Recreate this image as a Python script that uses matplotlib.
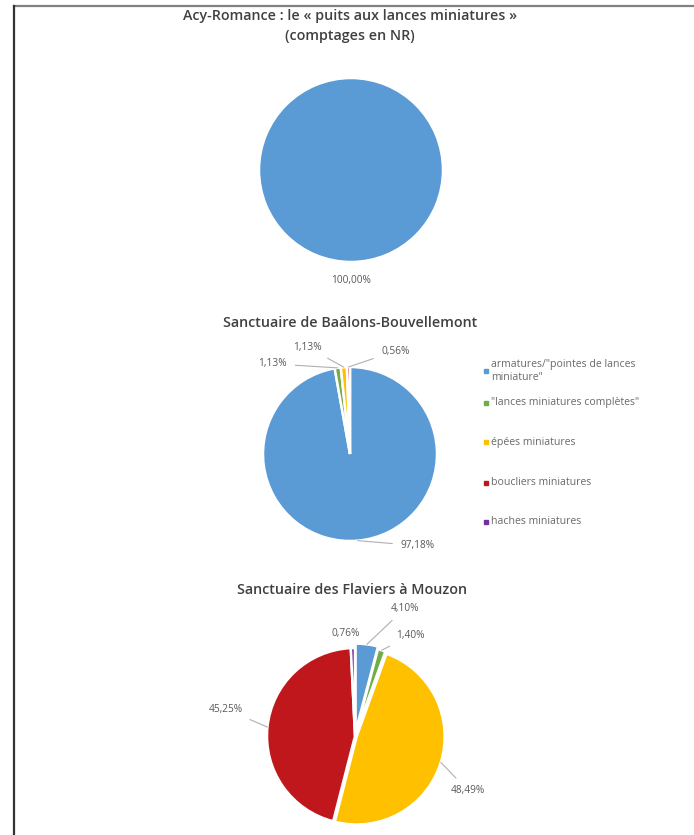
import numpy as np
import matplotlib.pyplot as plt
from matplotlib.lines import Line2D

# categories (legend order)
categories = ['armatures/"pointes de lances\nminiature"',
              '"lances miniatures complètes"',
              'épées miniatures',
              'boucliers miniatures',
              'haches miniatures']
colors = ['#5B9BD5', '#70AD47', '#FFC000', '#C0171C', '#7030A0']

# values (%)
acy_values = [100.00]
acy_labels = ['100,00%']
baalons_values = [97.18, 1.13, 1.13, 0.56]
baalons_labels = ['97,18%', '1,13%', '1,13%', '0,56%']
mouzon_values = [4.10, 1.40, 48.49, 45.25, 0.76]
mouzon_labels = ['4,10%', '1,40%', '48,49%', '45,25%', '0,76%']

titles = ['Acy-Romance : le « puits aux lances miniatures »\n(comptages en NR)',
          'Sanctuaire de Baâlons-Bouvellemont',
          'Sanctuaire des Flaviers à Mouzon']

W, H = 694, 835
fig = plt.figure(figsize=(W / 100, H / 100), dpi=100)
plt.rcParams['font.family'] = ['Open Sans', 'DejaVu Sans']

title_col = '#404040'
lab_col = '#595959'


def pie_axes(cx, cy, r):
    ax = fig.add_axes([(cx - r) / W, 1 - (cy + r) / H, 2 * r / W, 2 * r / H])
    return ax


def draw_pie(ax, values, cols, labels, offsets, leaders, explode=None):
    wedges, _ = ax.pie(values, colors=cols, startangle=90, counterclock=False,
                       radius=1, explode=explode, center=(0, 0), frame=True,
                       wedgeprops=dict(edgecolor='white', linewidth=1.8))
    ax.set_xlim(-1, 1)
    ax.set_ylim(-1, 1)
    ax.axis('off')
    for w, lab, off, lead in zip(wedges, labels, offsets, leaders):
        mid = np.deg2rad((w.theta1 + w.theta2) / 2)
        cx, cy = w.center
        xy = (cx + np.cos(mid), cy + np.sin(mid))
        ax.annotate(lab, xy=xy, xytext=off, textcoords='offset pixels',
                    ha='center', va='center', fontsize=7.3, color=lab_col,
                    annotation_clip=False,
                    arrowprops=dict(arrowstyle='-', color='#b0b0b0', lw=0.8,
                                    shrinkA=4, shrinkB=0) if lead else None)


# pie 1
fig.text(350 / W, 1 - 26 / H, titles[0], ha='center', va='center',
         fontsize=10.3, fontweight='semibold', color=title_col, linespacing=1.5)
ax1 = pie_axes(351, 170, 92)
draw_pie(ax1, acy_values, colors[:1], acy_labels, [(0, -18)], [False])

# pie 2
fig.text(350 / W, 1 - 323 / H, titles[1], ha='center', va='center',
         fontsize=10.3, fontweight='semibold', color=title_col)
ax2 = pie_axes(350, 454, 87)
draw_pie(ax2, baalons_values, colors[:4], baalons_labels,
         [(60, -5), (-65, 4), (-36, 20), (47, 16)],
         [True, True, True, True])

# legend for pie 2
leg_y = [371, 403, 442, 483, 522]
for lab, col, y in zip(categories, colors, leg_y):
    fig.add_artist(Line2D([486 / W], [1 - y / H], marker='s', markersize=2.2,
                          color=col, linestyle='none'))
    fig.text(491 / W, 1 - y / H, lab, ha='left', va='center', fontsize=7.6,
             color='#6a6a6a', linespacing=1.35)

# pie 3
fig.text(352 / W, 1 - 590 / H, titles[2], ha='center', va='center',
         fontsize=10.3, fontweight='semibold', color=title_col)
ax3 = pie_axes(355, 736, 88)
draw_pie(ax3, mouzon_values, colors, mouzon_labels,
         [(38, 36), (29, 15), (27, -28), (-42, 18), (-7, 15)],
         [True, True, True, True, False],
         explode=[0.05, 0.02, 0.02, 0, 0])

# frame lines of the page
fig.add_artist(Line2D([14 / W, 1], [1 - 6 / H, 1 - 6 / H], color='#808080', lw=1.6))
fig.add_artist(Line2D([14 / W, 14 / W], [0, 1 - 6 / H], color='#333333', lw=1.6))

fig.savefig('out.png', dpi=100)
